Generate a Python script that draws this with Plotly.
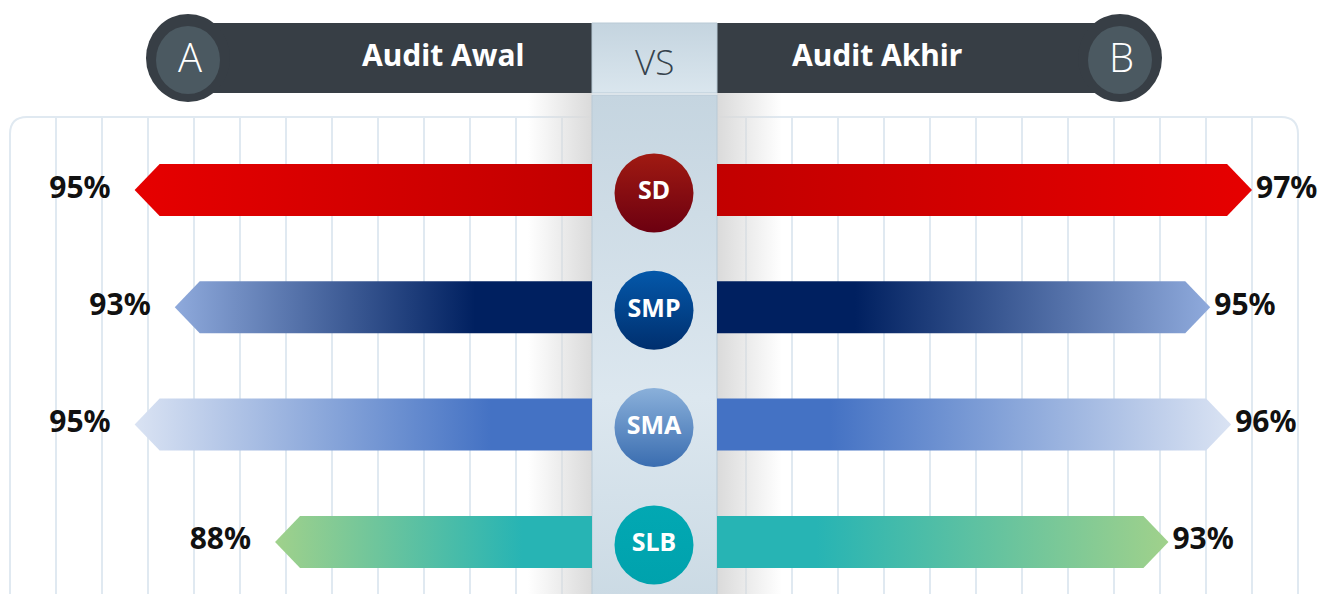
import plotly.graph_objects as go

# ---------------- data ----------------
categories = ["SD", "SMP", "SMA", "SLB"]
awal = [95, 93, 95, 88]      # Audit Awal (left, A)
akhir = [97, 95, 96, 93]     # Audit Akhir (right, B)
title_left = "Audit Awal"
title_right = "Audit Akhir"
badge_left = "A"
badge_right = "B"
vs_text = "VS"

# ---------------- styles ----------------
# colour stops: 0 = next to the centre column, 1 = outer tip
bar_scales = [
    [[0, "#c20000"], [1, "#e60000"]],
    [[0, "#002060"], [0.28, "#002060"], [1, "#8faadc"]],
    [[0, "#4472c4"], [0.22, "#4472c4"], [1, "#dae3f3"]],
    [[0, "#27b4b4"], [0.22, "#27b4b4"], [1, "#a0d18b"]],
]
circle_top = ["#a01a12", "#0458aa", "#8ab0da", "#02a8b3"]
circle_bot = ["#6c0010", "#002f6e", "#3a6db0", "#00a2ad"]


def flip(cs):
    return [[1 - p, c] for p, c in reversed(cs)]


W, H = 1322, 594
COL_L, COL_R = 592, 717          # centre column
L_BASE, L_SCALE = 72.2, 20.06    # left axis: value at column edge, px per unit
R_BASE, R_SCALE = 71.4, 20.9
ROW0, ROW_STEP = 190, 117.3      # px of first row, px between rows
HALF = 26 / ROW_STEP
TIP = 25
CIRCLE_DY = 3 / ROW_STEP


def px(x):
    return x / W


def py(y):
    return 1 - y / H


fig = go.Figure()

# ---------- background shapes (paper coords) ----------
shapes = []
r = 17
path = (f"M {px(10)},{py(600)} L {px(10)},{py(117 + r)} "
        f"Q {px(10)},{py(117)} {px(10 + r)},{py(117)} "
        f"L {px(1298 - r)},{py(117)} Q {px(1298)},{py(117)} {px(1298)},{py(117 + r)} "
        f"L {px(1298)},{py(600)} Z")
shapes.append(dict(type="path", xref="paper", yref="paper", path=path,
                   fillcolor="white", line=dict(color="#e0e9f1", width=2), layer="below"))
for k in range(27):
    gx = 56 + 46 * k
    shapes.append(dict(type="line", xref="paper", yref="paper",
                       x0=px(gx), x1=px(gx), y0=py(118), y1=py(600),
                       line=dict(color="#e0e9f1", width=2), layer="below"))
hdr = "#373e45"
shapes.append(dict(type="rect", xref="paper", yref="paper", x0=px(190), x1=px(COL_L),
                   y0=py(93), y1=py(23), fillcolor=hdr, line=dict(width=0), layer="below"))
shapes.append(dict(type="rect", xref="paper", yref="paper", x0=px(COL_R), x1=px(1120),
                   y0=py(93), y1=py(23), fillcolor=hdr, line=dict(width=0), layer="below"))
for cx in (188, 1120):
    shapes.append(dict(type="circle", xref="paper", yref="paper",
                       x0=px(cx - 42), x1=px(cx + 42), y0=py(58 + 44), y1=py(58 - 44),
                       fillcolor=hdr, line=dict(width=0), layer="below"))
    shapes.append(dict(type="circle", xref="paper", yref="paper",
                       x0=px(cx - 32), x1=px(cx + 32), y0=py(60 + 34), y1=py(60 - 34),
                       fillcolor="#4b5961", line=dict(width=0), layer="below"))

# ---------- pixel-space decoration traces (shadows, column) ----------
sh_l = go.Scatter(x=[528, COL_L, COL_L, 528, 528], y=[93, 93, 600, 600, 93],
                  fill="toself", mode="none", hoverinfo="skip", showlegend=False,
                  fillgradient=dict(type="horizontal",
                                    colorscale=[[0, "rgba(218,218,218,0)"], [1, "rgba(218,218,218,1)"]]),
                  xaxis="x", yaxis="y")
sh_r = go.Scatter(x=[COL_R, 782, 782, COL_R, COL_R], y=[93, 93, 600, 600, 93],
                  fill="toself", mode="none", hoverinfo="skip", showlegend=False,
                  fillgradient=dict(type="horizontal",
                                    colorscale=[[0, "rgba(218,218,218,1)"], [1, "rgba(218,218,218,0)"]]),
                  xaxis="x", yaxis="y")
col_top = go.Scatter(x=[COL_L, COL_R, COL_R, COL_L, COL_L], y=[23, 23, 93, 93, 23],
                     fill="toself", mode="lines", line=dict(color="#b9cad6", width=1),
                     hoverinfo="skip", showlegend=False,
                     fillgradient=dict(type="vertical",
                                       colorscale=flip([[0, "#c4d4df"], [1, "#dae6ee"]])),
                     xaxis="x", yaxis="y")
col_body = go.Scatter(x=[COL_L, COL_R, COL_R, COL_L, COL_L], y=[95, 95, 600, 600, 95],
                      fill="toself", mode="lines", line=dict(color="#b9cad6", width=1),
                      hoverinfo="skip", showlegend=False,
                      fillgradient=dict(type="vertical",
                                        colorscale=flip([[0, "#c5d5e0"], [0.6, "#dce7ef"], [1, "#cbdae4"]])),
                      xaxis="x", yaxis="y")
fig.add_traces([sh_l, sh_r, col_top, col_body])

# ---------- bars ----------
tipL = TIP / L_SCALE
tipR = TIP / R_SCALE
for i, (cat, va, vb) in enumerate(zip(categories, awal, akhir)):
    yl = [i - HALF, i - HALF, i, i + HALF, i + HALF, i - HALF]
    fig.add_trace(go.Scatter(
        x=[L_BASE, va - tipL, va, va - tipL, L_BASE, L_BASE], y=yl,
        fill="toself", mode="none", hoverinfo="skip", showlegend=False,
        fillgradient=dict(type="horizontal", colorscale=flip(bar_scales[i])),
        xaxis="x2", yaxis="y2"))
    fig.add_trace(go.Scatter(
        x=[R_BASE, vb - tipR, vb, vb - tipR, R_BASE, R_BASE], y=yl,
        fill="toself", mode="none", hoverinfo="skip", showlegend=False,
        fillgradient=dict(type="horizontal", colorscale=bar_scales[i]),
        xaxis="x3", yaxis="y2"))

lab_font = dict(family="Noto Sans", size=30, color="#111111", weight="bold")
rows = list(range(len(categories)))
fig.add_trace(go.Scatter(
    x=[v + 24 / L_SCALE for v in awal], y=rows, mode="text",
    text=[f"{v}%" for v in awal], textposition="middle left",
    textfont=lab_font, hoverinfo="skip", showlegend=False, xaxis="x2", yaxis="y2"))
fig.add_trace(go.Scatter(
    x=[v + 4 / R_SCALE for v in akhir], y=rows, mode="text",
    text=[f"{v}%" for v in akhir], textposition="middle right",
    textfont=lab_font, hoverinfo="skip", showlegend=False, xaxis="x3", yaxis="y2"))

# ---------- category circles ----------
for i, cat in enumerate(categories):
    fig.add_trace(go.Scatter(
        x=[(COL_L + COL_R) / 2 - 0.5], y=[i + CIRCLE_DY], mode="markers+text", text=[cat],
        textposition="middle center",
        textfont=dict(family="Noto Sans", size=25, color="white", weight="bold"),
        marker=dict(size=79, color=circle_top[i], line=dict(width=0),
                    gradient=dict(type="vertical", color=circle_bot[i])),
        hoverinfo="skip", showlegend=False, xaxis="x", yaxis="y2"))


# ---------- header texts ----------
def note(x, y, text, font):
    return dict(x=px(x), y=py(y), xref="paper", yref="paper", text=text, showarrow=False,
                xanchor="center", yanchor="middle", font=font)


bold_hdr = dict(family="Noto Sans", size=30, color="white", weight="bold")
light = dict(family="Open Sans", size=40, color="white", weight=300)
ann = [
    note(443, 55, title_left, bold_hdr),
    note(877, 55, title_right, bold_hdr),
    note(190, 57, badge_left, light),
    note(1121, 57, badge_right, light),
    note(654, 62, vs_text, dict(family="Open Sans", size=35, color="#36424c", weight=300)),
]

ax_off = dict(visible=False, fixedrange=True, showgrid=False, zeroline=False)
fig.update_layout(
    width=W, height=H,
    margin=dict(l=0, r=0, t=0, b=0),
    paper_bgcolor="white", plot_bgcolor="rgba(0,0,0,0)",
    shapes=shapes, annotations=ann,
    xaxis=dict(range=[0, W], domain=[0, 1], **ax_off),
    yaxis=dict(range=[H, 0], domain=[0, 1], **ax_off),
    xaxis2=dict(range=[L_BASE + COL_L / L_SCALE, L_BASE], domain=[0, COL_L / W], anchor="y2", **ax_off),
    xaxis3=dict(range=[R_BASE, R_BASE + (W - COL_R) / R_SCALE], domain=[COL_R / W, 1], anchor="y2", **ax_off),
    yaxis2=dict(range=[(H - ROW0) / ROW_STEP, -ROW0 / ROW_STEP], domain=[0, 1], anchor="x2", **ax_off),
    showlegend=False,
)

fig.write_html("out.html", config={"displayModeBar": False},
               post_script="document.body.style.margin='0';document.body.style.overflow='hidden';")
